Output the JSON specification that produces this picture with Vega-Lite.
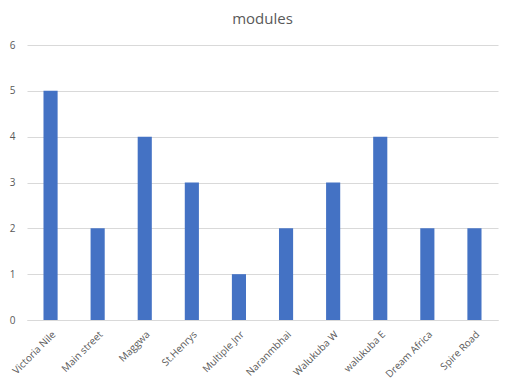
{
  "$schema": "https://vega.github.io/schema/vega-lite/v6.json",
  "autosize": "none",
  "width": 471,
  "height": 275,
  "padding": {"left": 27, "top": 45, "right": 14, "bottom": 66},
  "background": "white",
  "title": {"text": "modules", "fontSize": 15, "fontWeight": "normal", "font": "Open Sans", "color": "#595959", "offset": 13, "anchor": "middle"},
  "config": {"view": {"stroke": null}},
  "data": {"values": [
    {"school": "Victoria Nile", "modules": 5},
    {"school": "Main street", "modules": 2},
    {"school": "Maggwa", "modules": 4},
    {"school": "St.Henrys", "modules": 3},
    {"school": "Multiple Jnr", "modules": 1},
    {"school": "Naranmbhai", "modules": 2},
    {"school": "Walukuba W", "modules": 3},
    {"school": "walukuba E", "modules": 4},
    {"school": "Dream Africa", "modules": 2},
    {"school": "Spire Road", "modules": 2}
  ]},
  "mark": {"type": "bar", "color": "#4472C4"},
  "encoding": {
    "x": {"field": "school", "type": "nominal", "sort": null, "title": null,
      "scale": {"paddingInner": 0.7, "paddingOuter": 0.35},
      "axis": {"labelAngle": -45, "labelAlign": "right", "labelBaseline": "top", "labelFontSize": 10, "labelColor": "#595959", "labelFont": "Open Sans", "ticks": false, "domainColor": "#d9d9d9", "labelPadding": 9}},
    "y": {"field": "modules", "type": "quantitative", "title": null,
      "scale": {"domain": [0, 6]},
      "axis": {"values": [0,1,2,3,4,5,6], "labelOverlap": false, "domain": false, "ticks": false, "gridColor": "#d9d9d9", "labelFontSize": 10, "labelColor": "#595959", "labelFont": "Open Sans", "labelPadding": 12}}
  }
}
